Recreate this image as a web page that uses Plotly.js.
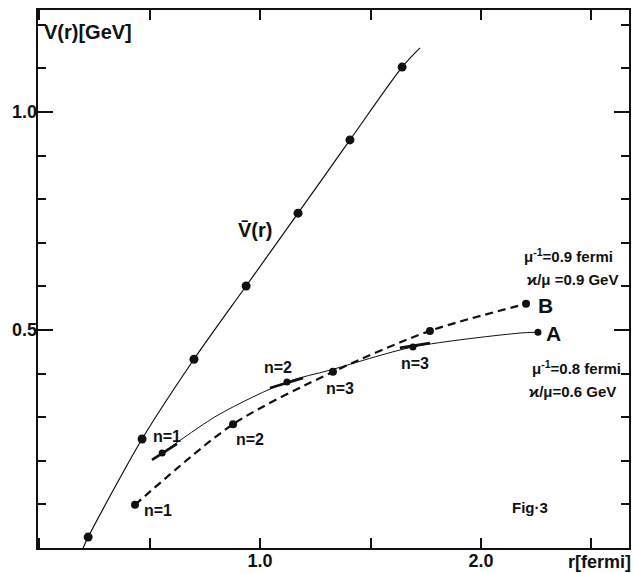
<!DOCTYPE html>
<html>
<head>
<meta charset="utf-8">
<script src="https://cdn.plot.ly/plotly-3.0.1.min.js"></script>
<style>html,body{margin:0;padding:0;background:#fff;}#chart{width:633px;height:573px;}</style>
</head>
<body>
<div id="chart"></div>
<script>
// V-bar(r) curve: line guide and data points
const vbarLineX = [0.199, 0.222, 0.466, 0.701, 0.937, 1.172, 1.407, 1.643, 1.724];
const vbarLineY = [0.000, 0.025, 0.250, 0.433, 0.601, 0.768, 0.936, 1.103, 1.147];
const vbarPtX = [0.222, 0.466, 0.701, 0.937, 1.172, 1.407, 1.643];
const vbarPtY = [0.025, 0.250, 0.433, 0.601, 0.768, 0.936, 1.103];

// Curve A (solid, mu^-1 = 0.8 fermi)
const aLineX = [0.511, 0.557, 0.810, 1.122, 1.317, 1.692, 2.176, 2.258];
const aLineY = [0.202, 0.218, 0.305, 0.381, 0.408, 0.461, 0.493, 0.495];
const aPtX = [0.557, 1.122, 1.692, 2.258];
const aPtY = [0.218, 0.381, 0.461, 0.495];
// thick strokes around A's n points
const aSegX = [[0.511, 0.624], [1.045, 1.195], [1.633, 1.769]];
const aSegY = [[0.202, 0.239], [0.367, 0.390], [0.459, 0.470]];

// Curve B (dashed, mu^-1 = 0.9 fermi)
const bLineX = [0.434, 0.878, 1.330, 1.769, 2.204];
const bLineY = [0.099, 0.284, 0.404, 0.498, 0.560];
const bPtX = [0.434, 0.878, 1.330, 1.769, 2.204];
const bPtY = [0.099, 0.284, 0.404, 0.498, 0.560];

// axes and tick labels
const xRange = [-0.005, 2.67];
const yRange = [0, 1.234];
const xTickVals = [1, 2];
const xTickText = ["1.0", "2.0"];
const yTickVals = [0.5, 1.0];
const yTickText = ["0.5", "1.0"];

const FONT = "Liberation Sans, Arial, sans-serif";
const INK = "#111";

const traces = [
  {x: vbarLineX, y: vbarLineY, mode: "lines", line: {color: INK, width: 1.2, shape: "spline", smoothing: 0.8}},
  {x: aLineX, y: aLineY, mode: "lines", line: {color: INK, width: 1, shape: "spline", smoothing: 0.8}},
  {x: bLineX, y: bLineY, mode: "lines", line: {color: INK, width: 2.2, dash: "8px,5px", shape: "spline", smoothing: 0.8}},
  {x: aPtX, y: aPtY, mode: "markers", marker: {color: INK, size: 7}},
  {x: bPtX, y: bPtY, mode: "markers", marker: {color: INK, size: 8}}
];
aSegX.forEach((sx, i) => {
  traces.push({x: sx, y: aSegY[i], mode: "lines", line: {color: INK, width: 2.6}});
});
// V-bar points drawn on the overlaid (labelled) axes, which share identical ranges
traces.push({x: vbarPtX, y: vbarPtY, xaxis: "x2", yaxis: "y2", mode: "markers", marker: {color: INK, size: 9}});

function ann(x, y, text, size, extra) {
  return Object.assign({x: x, y: y, xref: "x", yref: "y", xanchor: "center", yanchor: "middle",
    text: text, showarrow: false,
    font: {family: FONT, size: size, color: INK, weight: "bold"}}, extra || {});
}

const annotations = [
  ann(0.085, 0.959, "V(r)[GeV]", 20, {xref: "paper", yref: "paper"}),
  ann(1.006, -0.026, "r[fermi]", 18, {xref: "paper", yref: "paper", xanchor: "right"}),
  ann(0.977, 0.729, "V\u0304(r)", 20),
  ann(0.579, 0.255, "n=1", 16),
  ann(0.538, 0.087, "n=1", 16),
  ann(1.081, 0.413, "n=2", 16),
  ann(0.955, 0.250, "n=2", 16),
  ann(1.362, 0.367, "n=3", 16),
  ann(1.701, 0.424, "n=3", 16),
  ann(2.29, 0.557, "B", 21),
  ann(2.326, 0.493, "A", 21),
  ann(2.394, 0.672, "μ<sup>-1</sup>=0.9 fermi", 15),
  ann(2.416, 0.615, "ϰ/μ =0.9 GeV", 15),
  ann(2.434, 0.415, "μ<sup>-1</sup>=0.8 fermi", 15),
  ann(2.416, 0.358, "ϰ/μ=0.6 GeV", 15),
  ann(2.222, 0.092, "Fig·3", 15)
];

const tickFont = {family: FONT, size: 18, color: INK, weight: "bold"};

const layout = {
  width: 633, height: 573,
  margin: {l: 38, r: 4, t: 10, b: 25},
  paper_bgcolor: "#fff", plot_bgcolor: "#fff",
  showlegend: false,
  font: {family: FONT, size: 17, color: INK},
  xaxis: {
    range: xRange, showgrid: false, zeroline: false,
    showline: true, linecolor: INK, linewidth: 2, mirror: "ticks",
    tickmode: "linear", tick0: 0, dtick: 0.5, showticklabels: false,
    ticks: "inside", ticklen: 10, tickwidth: 2, tickcolor: INK
  },
  yaxis: {
    range: yRange, showgrid: false, zeroline: false,
    showline: true, linecolor: INK, linewidth: 2, mirror: "ticks",
    tickmode: "linear", tick0: 0, dtick: 0.1, showticklabels: false,
    ticks: "inside", ticklen: 8, tickwidth: 2, tickcolor: INK
  },
  xaxis2: {
    overlaying: "x", anchor: "y2", side: "bottom",
    range: xRange, showgrid: false, zeroline: false, showline: false,
    tickmode: "array", tickvals: xTickVals, ticktext: xTickText,
    ticks: "", tickfont: tickFont
  },
  yaxis2: {
    overlaying: "y", anchor: "x2", side: "left",
    range: yRange, showgrid: false, zeroline: false, showline: false, mirror: "ticks",
    tickmode: "array", tickvals: yTickVals, ticktext: yTickText,
    ticks: "inside", ticklen: 15, tickwidth: 2, tickcolor: INK, tickfont: tickFont
  },
  annotations: annotations
};

Plotly.newPlot("chart", traces, layout, {staticPlot: true, displayModeBar: false});
</script>
</body>
</html>
